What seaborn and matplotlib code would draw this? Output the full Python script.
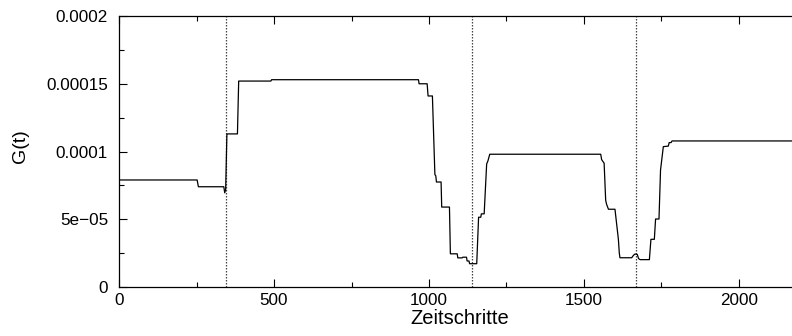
import numpy as np
import pandas as pd
import matplotlib
matplotlib.use("Agg")
import matplotlib.pyplot as plt
import seaborn as sns
from matplotlib.ticker import MultipleLocator, FixedLocator, FixedFormatter

# Zeitschritt und Gewichtswert G(t) (in Einheiten von 1e-5)
zeit = [0, 252, 256, 338, 341, 344, 348, 382, 386, 490, 492, 966, 968, 994, 997,
        1011, 1019, 1022, 1024, 1039, 1041, 1066, 1069, 1091, 1093, 1107, 1109,
        1121, 1123, 1129, 1131, 1154, 1160, 1167, 1169, 1178, 1186, 1190, 1196,
        1554, 1557, 1565, 1570, 1573, 1579, 1600, 1611, 1614, 1616, 1654, 1660,
        1665, 1672, 1676, 1681, 1711, 1716, 1727, 1731, 1742, 1747, 1756, 1772,
        1775, 1781, 1784, 2200]
g_wert_1e5 = [7.9, 7.9, 7.4, 7.4, 6.95, 7.2, 11.3, 11.3, 15.2, 15.2, 15.3, 15.3,
              15.0, 15.0, 14.1, 14.1, 8.3, 8.2, 7.75, 7.75, 5.9, 5.9, 2.45, 2.45,
              2.15, 2.15, 2.2, 2.2, 1.92, 1.92, 1.72, 1.72, 5.15, 5.15, 5.4, 5.4,
              9.08, 9.3, 9.8, 9.8, 9.4, 9.14, 6.4, 6.1, 5.74, 5.74, 3.52, 2.5,
              2.16, 2.16, 2.35, 2.44, 2.4, 2.1, 2.02, 2.02, 3.52, 3.52, 5.02, 5.02,
              8.64, 10.36, 10.4, 10.66, 10.66, 10.78, 10.78]

# Phasengrenzen (gepunktete Linien)
phasen_grenzen = [344, 1139, 1668]

x_ticks = [0, 500, 1000, 1500, 2000]
x_tick_labels = ["0", "500", "1000", "1500", "2000"]
y_ticks = [0, 5e-5, 1e-4, 1.5e-4, 2e-4]
y_tick_labels = ["0", "5e\u221205", "0.0001", "0.00015", "0.0002"]

sns.set_theme(style="white")
plt.rcParams["font.family"] = ["Liberation Sans", "DejaVu Sans"]

df = pd.DataFrame({"Zeitschritte": zeit,
                   "G": np.array(g_wert_1e5) * 1e-5})

fig = plt.figure(figsize=(7.92, 3.36), dpi=100)
ax = fig.add_axes([0.1503, 0.1458, 0.861, 0.8065])

sns.lineplot(data=df, x="Zeitschritte", y="G", ax=ax, color="black",
             linewidth=0.9, estimator=None, sort=False)

for xg in phasen_grenzen:
    ax.axvline(xg, color="#444444", linewidth=0.9, linestyle=(0, (1.2, 1.2)),
               zorder=1)

ax.set_xlim(0, 2200)
ax.set_ylim(0, 0.0002)

ax.xaxis.set_major_locator(FixedLocator(x_ticks))
ax.xaxis.set_major_formatter(FixedFormatter(x_tick_labels))
ax.yaxis.set_major_locator(FixedLocator(y_ticks))
ax.yaxis.set_major_formatter(FixedFormatter(y_tick_labels))
ax.xaxis.set_minor_locator(MultipleLocator(250))
ax.yaxis.set_minor_locator(MultipleLocator(2.5e-5))

ax.tick_params(which="both", direction="in", top=True, right=False,
               bottom=True, left=True, color="black", width=0.8,
               labelsize=12.3, labelcolor="black")
ax.tick_params(which="major", length=5.5)
ax.tick_params(which="minor", length=3.5)
ax.tick_params(axis="x", which="major", pad=4.5)
ax.tick_params(axis="y", which="major", pad=8)

for name, sp in ax.spines.items():
    sp.set_color("black")
    sp.set_linewidth(0.9)
ax.spines["right"].set_visible(False)

ax.set_xlabel("Zeitschritte", fontsize=14.5, color="black", labelpad=0.5)
ax.set_ylabel("G(t)", fontsize=14, color="black")
ax.yaxis.set_label_coords(-0.132, 0.52)

fig.savefig("out.png", dpi=100)
